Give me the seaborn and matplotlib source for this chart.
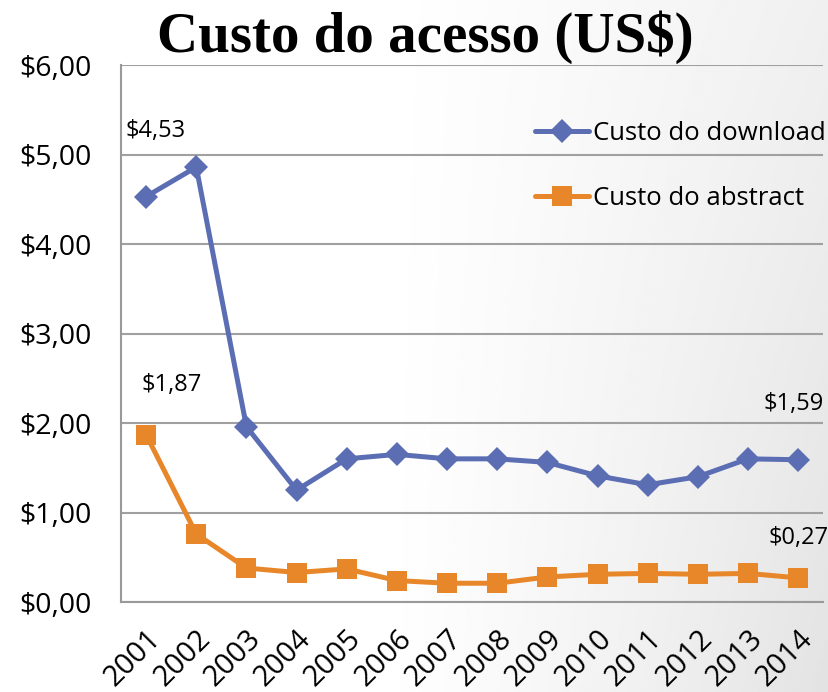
import numpy as np
import pandas as pd
import seaborn as sns
import matplotlib.pyplot as plt
from matplotlib.lines import Line2D

# dados
anos = [2001, 2002, 2003, 2004, 2005, 2006, 2007, 2008, 2009, 2010, 2011, 2012, 2013, 2014]
custo_download = [4.53, 4.86, 1.96, 1.25, 1.60, 1.65, 1.60, 1.60, 1.56, 1.41, 1.31, 1.40, 1.60, 1.59]
custo_abstract = [1.87, 0.76, 0.38, 0.33, 0.37, 0.24, 0.21, 0.21, 0.28, 0.31, 0.32, 0.31, 0.32, 0.27]
series = ['Custo do download', 'Custo do abstract']
titulo = 'Custo do acesso (US$)'

cores = {'Custo do download': '#5B6DB3', 'Custo do abstract': '#E8872A'}
marcadores = {'Custo do download': 'D', 'Custo do abstract': 's'}
tamanhos = {'Custo do download': 12, 'Custo do abstract': 14}

df = pd.DataFrame({
    'Ano': anos * 2,
    'Custo': custo_download + custo_abstract,
    'Serie': [series[0]] * len(anos) + [series[1]] * len(anos),
})

sns.set_style('white')
plt.rcParams['font.family'] = ['Open Sans', 'DejaVu Sans']
plt.rcParams['text.color'] = 'black'

fig = plt.figure(figsize=(8.29, 6.92), dpi=100)

# fundo em degradê suave
bg = fig.add_axes([0, 0, 1, 1], zorder=-10)
X, Y = np.meshgrid(np.linspace(0, 1, 300), np.linspace(0, 1, 300))
grad = np.clip((X - 0.45) / 0.55, 0, 1) ** 1.2 * (0.06 + 0.05 * Y)
bg.imshow(1 - grad, cmap='gray', vmin=0, vmax=1, aspect='auto',
          extent=[0, 1, 0, 1], origin='upper')
bg.axis('off')

ax = fig.add_axes([0.146, 0.130, 0.847, 0.776])
ax.patch.set_alpha(0)

for s in series:
    sns.lineplot(data=df[df['Serie'] == s], x='Ano', y='Custo',
                 color=cores[s], marker=marcadores[s], linewidth=3.6,
                 markersize=tamanhos[s], markeredgewidth=0, ax=ax, zorder=5)

ax.set_xlim(2000.5, 2014.5)
ax.set_ylim(0, 6)
ax.set_yticks(np.arange(0, 6.01, 1))
ax.set_yticklabels(['$%d,00' % v for v in range(7)], fontsize=20.5)
ax.set_xticks(anos)
ax.set_xticklabels([str(a) for a in anos], rotation=45, fontsize=21,
                   ha='right', va='top', rotation_mode='anchor')
ax.set_xticks(np.arange(2000.5, 2015, 1), minor=True)
ax.tick_params(axis='x', which='major', length=0, pad=16, labelcolor='black')
ax.tick_params(axis='x', which='minor', length=7, width=1.5, color='#999999')
ax.tick_params(axis='y', length=7, width=1.5, color='#999999', pad=14,
               labelcolor='black')
ax.set_xlabel('')
ax.set_ylabel('')

ax.grid(axis='y', color='#A0A0A0', linewidth=1.5)
for lado in ['top', 'right']:
    ax.spines[lado].set_visible(False)
for lado in ['left', 'bottom']:
    ax.spines[lado].set_color('#999999')
    ax.spines[lado].set_linewidth(1.5)

# rótulos de dados
rotulos = [
    (anos[0], custo_download[0], (9, 66)),
    (anos[0], custo_abstract[0], (26, 50)),
    (anos[-1], custo_download[-1], (-4, 56)),
    (anos[-1], custo_abstract[-1], (0, 40)),
]
for x, y, off in rotulos:
    ax.annotate('$' + ('%.2f' % y).replace('.', ','), (x, y), xytext=off,
                textcoords='offset pixels', ha='center', va='center', fontsize=17)

handles = [Line2D([], [], color=cores[s], marker=marcadores[s], linewidth=3.6,
                  markersize=tamanhos[s], markeredgewidth=0) for s in series]
ax.legend(handles, series, loc='upper left', bbox_to_anchor=(535 / 829, 1 - 121 / 692),
          bbox_transform=fig.transFigure, frameon=False, fontsize=18.5,
          handlelength=2.1, handletextpad=0.15, labelspacing=1.55,
          borderpad=0, borderaxespad=0)

fig.text(0.513, 0.946, titulo, ha='center', va='center', fontsize=41,
         fontweight='bold', family=['Liberation Serif', 'DejaVu Serif'])

fig.savefig('out.png', dpi=100)
